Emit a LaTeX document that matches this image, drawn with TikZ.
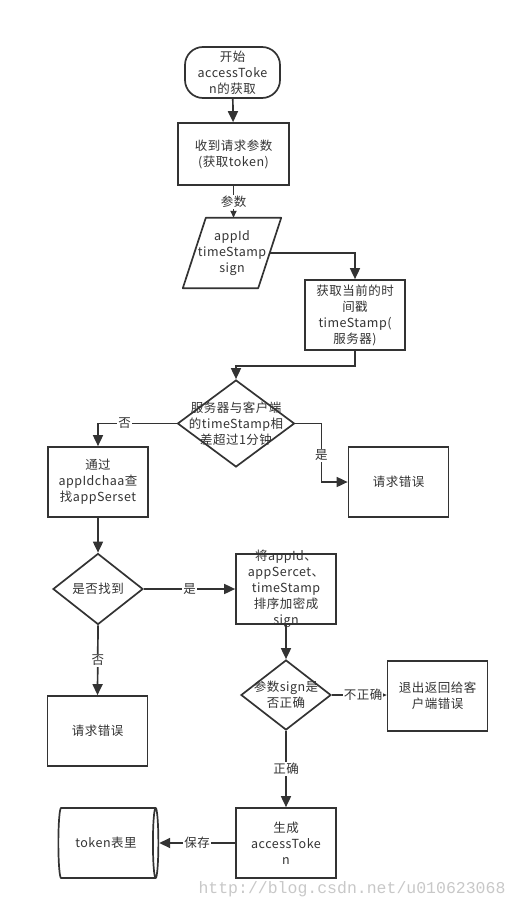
\documentclass[tikz,border=0pt]{standalone}
\usepackage{fontspec}
\setmainfont{Noto Sans CJK SC}[LetterSpace=4]
\newfontfamily\markfont{Liberation Mono}
\usetikzlibrary{arrows.meta,shapes.geometric,shapes.misc}
\definecolor{ink}{HTML}{333333}
\definecolor{mark}{HTML}{C8C8C8}

\begin{document}
\begin{tikzpicture}[x=1pt,y=-1pt,
  font=\fontsize{12.5}{16}\selectfont,text=ink,
  box/.style={draw=ink,line width=1.7pt,minimum width=100pt,minimum height=70pt,
              align=center,inner sep=2pt},
  dec/.style={draw=ink,line width=1.7pt,diamond,inner sep=0pt},
  arr/.style={draw=ink,line width=1.7pt,-{Triangle[length=11pt,width=10pt]}},
  lab/.style={fill=white,inner sep=1pt}]

  \useasboundingbox (0,0) rectangle (519,910);

  % main column
  \node[box,rounded corners=18pt,minimum width=95pt,minimum height=51pt] (start) at (232.5,72.5)
    {开始\\accessToke\\n的获取};
  \node[box,minimum width=111pt,minimum height=62pt] (recv) at (233.5,154)
    {收到请求参数\\(获取token)};
  \node[align=center,minimum width=75pt,minimum height=70pt,inner sep=0pt] (para) at (232,253)
    {appId\\timeStamp\\sign};
  \draw[draw=ink,line width=1.7pt,line join=round]
    ([xshift=11.5pt]para.north west) -- ([xshift=11.5pt]para.north east)
    -- ([xshift=-11.5pt]para.south east) -- ([xshift=-11.5pt]para.south west) -- cycle;
  \node[box] (time) at (355,315) {获取当前的时\\间戳\\timeStamp(\\服务器)};
  \node[dec,minimum width=117pt,minimum height=87pt,
        label={[align=center]center:{服务器与客户端\\的timeStamp相\\差超过1分钟}}] (chk) at (236,423.5) {};

  % left branch
  \node[box] (find) at (98,482) {通过\\appIdchaa查\\找appSerset};
  \node[box] (err1) at (398.5,482) {请求错误};
  \node[dec,minimum width=90pt,minimum height=71pt,
        label={[align=center]center:{是否找到}}] (found) at (98,589) {};
  \node[box] (sign) at (286,589) {};
  \node[align=center] at (sign.center) {将appId、\\appSercet、\\timeStamp\\排序加密成\\sign};
  \node[box] (err2) at (97.5,731) {请求错误};

  % sign check
  \node[dec,minimum width=90pt,minimum height=70pt,
        label={[align=center]center:{参数sign是\\否正确}}] (ok) at (286,695) {};
  \node[box] (quit) at (437.5,696) {退出返回给客\\户端错误};
  \node[box] (gen) at (286,843) {生成\\accessToke\\n};
  \node[draw=ink,line width=1.7pt,cylinder,aspect=0.3,minimum width=70pt,minimum height=100pt]
    (db) at (106,843) {token表里};

  \node[font=\markfont\fontsize{16.5}{18}\selectfont,text=mark] (wm) at (352,889)
    {http://blog.csdn.net/u010623068};

  \draw[arr] (start) -- (recv);
  \draw[arr,-{Triangle[length=7pt,width=6pt]}] (recv.south) -- (recv.south |- para.north)
    node[lab,midway] {参数};
  \draw[arr] (para.east) -| (time.north);
  \draw[arr] (time.south) -- ++(0,15) -| (chk.north);
  \draw[arr] (chk.west) -| (find.north) node[lab,pos=0.33] {否};
  \draw[arr] (chk.east) -- ++(26,0) |- (err1.west) node[lab,pos=0.27] {是};
  \draw[arr] (find) -- (found);
  \draw[arr] (found.east) -- (sign.west) node[lab,midway] {是};
  \draw[arr] (found.south) -- (err2.north) node[lab,midway] {否};
  \draw[arr] (sign.south) -- (ok.north);
  \draw[arr] (ok.east) -- (ok.east -| quit.west) node[lab,pos=0.57] {不正确};
  \draw[arr] (ok.south) -- (gen.north) node[lab,midway] {正确};
  \draw[arr] (gen.west) -- (db.east) node[lab,midway] {保存};
\end{tikzpicture}
\end{document}
